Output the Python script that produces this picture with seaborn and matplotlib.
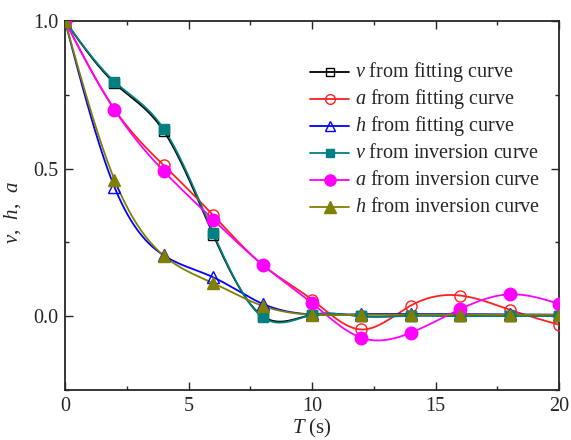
import numpy as np
import pandas as pd
import matplotlib
matplotlib.use("Agg")
import matplotlib.pyplot as plt
from matplotlib.ticker import MultipleLocator
import seaborn as sns

T = [0, 2, 4, 6, 8, 10, 12, 14, 16, 18, 20]
v_fit = [1.0, 0.790, 0.627, 0.276, 0.000, 0.005, 0.000, 0.002, 0.002, 0.002, 0.002]
a_fit = [1.0, 0.701, 0.511, 0.342, 0.174, 0.056, -0.045, 0.036, 0.070, 0.022, -0.029]
h_fit = [1.0, 0.438, 0.206, 0.132, 0.042, 0.006, 0.007, 0.007, 0.007, 0.006, 0.005]
v_inv = [1.0, 0.795, 0.634, 0.282, -0.003, 0.004, 0.000, 0.001, 0.000, 0.001, 0.000]
a_inv = [1.0, 0.700, 0.491, 0.327, 0.174, 0.044, -0.073, -0.056, 0.024, 0.074, 0.042]
h_inv = [1.0, 0.463, 0.205, 0.112, 0.035, 0.005, 0.005, 0.005, 0.005, 0.005, 0.005]

labels = [r"$v$ from fitting curve", r"$a$ from fitting curve", r"$h$ from fitting curve",
          r"$v$ from inversion curve", r"$a$ from inversion curve", r"$h$ from inversion curve"]
series = [v_fit, a_fit, h_fit, v_inv, a_inv, h_inv]
colors = ["#000000", "#FF2020", "#0000FF", "#008080", "#FF00FF", "#808000"]
markers = ["s", "o", "^", "s", "o", "^"]
filled = [False, False, False, True, True, True]
msizes = [7, 8, 8, 7, 9, 9]


def natural_spline(x, y, xs):
    x = np.asarray(x, float); y = np.asarray(y, float)
    n = len(x)
    h = np.diff(x)
    A = np.zeros((n, n)); b = np.zeros(n)
    A[0, 0] = 1; A[-1, -1] = 1
    for i in range(1, n - 1):
        A[i, i - 1] = h[i - 1]
        A[i, i] = 2 * (h[i - 1] + h[i])
        A[i, i + 1] = h[i]
        b[i] = 6 * ((y[i + 1] - y[i]) / h[i] - (y[i] - y[i - 1]) / h[i - 1])
    M = np.linalg.solve(A, b)
    idx = np.clip(np.searchsorted(x, xs) - 1, 0, n - 2)
    x0 = x[idx]; x1 = x[idx + 1]; hh = x1 - x0
    t1 = x1 - xs; t0 = xs - x0
    return (M[idx] * t1 ** 3 / (6 * hh) + M[idx + 1] * t0 ** 3 / (6 * hh)
            + (y[idx] / hh - M[idx] * hh / 6) * t1 + (y[idx + 1] / hh - M[idx + 1] * hh / 6) * t0)


sns.set_style("ticks")
plt.rcParams["font.family"] = ["Liberation Serif", "DejaVu Serif"]
plt.rcParams["mathtext.fontset"] = "custom"
plt.rcParams["mathtext.it"] = "Liberation Serif:italic"
plt.rcParams["mathtext.rm"] = "Liberation Serif"

W, H = 571, 440
L, R, TOP, BOT = 65, 559, 21, 390
fig = plt.figure(figsize=(W / 100, H / 100), dpi=100)
ax = fig.add_axes([L / W, 1 - BOT / H, (R - L) / W, (BOT - TOP) / H])

xs = np.linspace(0, 20, 801)
for i, ys in enumerate(series):
    curve = pd.DataFrame({"T": xs, "y": natural_spline(T, ys, xs)})
    sns.lineplot(data=curve, x="T", y="y", ax=ax, color=colors[i], lw=1.3, zorder=2 + i)
    pts = pd.DataFrame({"T": T, "y": ys})
    ax.plot(pts["T"], pts["y"], ls="none", marker=markers[i], ms=msizes[i],
            mec=colors[i], mfc=colors[i] if filled[i] else "none", mew=1.0, zorder=10 + i)

ax.set_xlim(0, 20)
ax.set_ylim(-0.25, 1.0)
ax.xaxis.set_major_locator(MultipleLocator(5))
ax.xaxis.set_minor_locator(MultipleLocator(2.5))
ax.yaxis.set_major_locator(MultipleLocator(0.5))
ax.yaxis.set_minor_locator(MultipleLocator(0.25))
ax.set_yticks([0.0, 0.5, 1.0])
ax.set_yticklabels(["0.0", "0.5", "1.0"])
ax.tick_params(which="both", direction="in", top=True, right=True, labelsize=14.5, width=1.0, pad=5)
ax.tick_params(which="major", length=6)
ax.tick_params(which="minor", length=3)
for s in ax.spines.values():
    s.set_linewidth(1.3)

ax.set_xlabel(r"$T$ (s)", fontsize=15, labelpad=1)
ax.set_ylabel(r"$v$,  $h$,  $a$", fontsize=15)
ax.yaxis.set_label_coords((23 - L) / (R - L), 1 - (213 - TOP) / (BOT - TOP))

# legend drawn in axes coordinates
def ax_x(px):
    return (px - L) / (R - L)

def ax_y(py):
    return 1 - (py - TOP) / (BOT - TOP)

for k in range(6):
    py = 72.3 + k * 26.9
    ax.plot([ax_x(310), ax_x(349)], [ax_y(py), ax_y(py)], transform=ax.transAxes,
            color=colors[k], lw=1.3, clip_on=False, zorder=30)
    ax.plot([ax_x(329.5)], [ax_y(py)], transform=ax.transAxes, ls="none",
            marker=markers[k], ms=msizes[k] - 1, mec=colors[k],
            mfc=colors[k] if filled[k] else "none", mew=1.0, clip_on=False, zorder=31)
    ax.text(ax_x(355), ax_y(py + 5), labels[k], transform=ax.transAxes,
            fontsize=14.5, ha="left", va="baseline", zorder=32)

fig.savefig("out.png", dpi=100)
